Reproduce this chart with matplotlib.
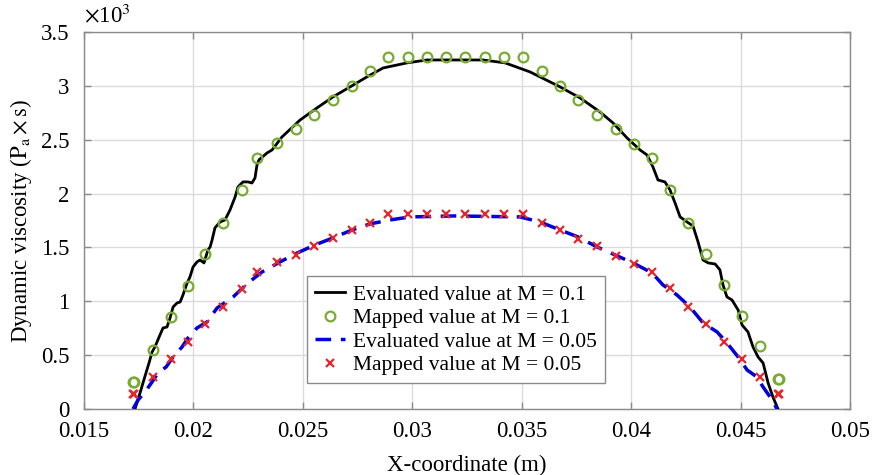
import matplotlib
matplotlib.use("Agg")
import matplotlib.pyplot as plt
from matplotlib.ticker import FuncFormatter, MultipleLocator

plt.rcParams['font.family'] = ['Liberation Serif', 'DejaVu Serif']
plt.rcParams['mathtext.fontset'] = 'stix'

# ---- data (dynamic viscosity in units of 10^3) ----
# Evaluated value at M = 0.1
eval1_x = [0.01735, 0.01758, 0.01785, 0.01799, 0.01813, 0.01826, 0.01849, 0.01863, 0.01881, 0.01895,
           0.01909, 0.01927, 0.01941, 0.01954, 0.01973, 0.01986, 0.02000, 0.02018, 0.02032, 0.02050,
           0.02068, 0.02078, 0.02087, 0.02100, 0.02123, 0.02146, 0.02169, 0.02192, 0.02205, 0.02228,
           0.02251, 0.02269, 0.02283, 0.02292, 0.02301, 0.02338, 0.02361, 0.02406, 0.02489, 0.02566,
           0.02639, 0.02717, 0.02794, 0.02868, 0.02977, 0.03068, 0.03324, 0.03425, 0.03539, 0.03676,
           0.03767, 0.03858, 0.03918, 0.03982, 0.04041, 0.04073, 0.04100, 0.04123, 0.04155, 0.04178,
           0.04201, 0.04224, 0.04256, 0.04283, 0.04306, 0.04329, 0.04352, 0.04384, 0.04406, 0.04420,
           0.04438, 0.04461, 0.04489, 0.04507, 0.04534, 0.04557, 0.04580, 0.04603, 0.04626, 0.04648,
           0.04671]
eval1_y = [0.00, 0.149, 0.334, 0.427, 0.529, 0.576, 0.687, 0.752, 0.761, 0.845,
           0.947, 0.984, 0.993, 1.058, 1.170, 1.226, 1.318, 1.365, 1.383, 1.356,
           1.476, 1.504, 1.569, 1.681, 1.736, 1.755, 1.848, 1.968, 2.061, 2.108,
           2.108, 2.098, 2.145, 2.266, 2.312, 2.377, 2.405, 2.525, 2.683, 2.795,
           2.897, 2.990, 3.083, 3.166, 3.213, 3.240, 3.240, 3.213, 3.129, 2.990,
           2.888, 2.758, 2.655, 2.516, 2.405, 2.358, 2.247, 2.126, 2.108, 2.033,
           1.913, 1.783, 1.736, 1.699, 1.551, 1.383, 1.356, 1.346, 1.291, 1.151,
           1.040, 1.012, 0.919, 0.780, 0.715, 0.576, 0.483, 0.427, 0.241, 0.111,
           0.00]

# Evaluated value at M = 0.05
eval2_x = [0.01726, 0.01749, 0.01781, 0.01813, 0.01840, 0.01877, 0.01909, 0.01950, 0.01977, 0.02018,
           0.02064, 0.02110, 0.02183, 0.02251, 0.02315, 0.02397, 0.02475, 0.02557, 0.02639, 0.02726,
           0.02808, 0.02900, 0.02991, 0.03196, 0.03493, 0.03584, 0.03676, 0.03758, 0.03845, 0.03927,
           0.04009, 0.04096, 0.04146, 0.04210, 0.04269, 0.04329, 0.04393, 0.04438, 0.04489, 0.04530,
           0.04575, 0.04603, 0.04635, 0.04667]
eval2_y = [0.00, 0.084, 0.158, 0.251, 0.334, 0.390, 0.483, 0.576, 0.659, 0.752,
           0.808, 0.938, 1.040, 1.170, 1.272, 1.365, 1.448, 1.523, 1.588, 1.662,
           1.718, 1.755, 1.783, 1.792, 1.783, 1.736, 1.662, 1.597, 1.504, 1.430,
           1.356, 1.263, 1.151, 1.058, 0.947, 0.799, 0.715, 0.613, 0.483, 0.362,
           0.297, 0.204, 0.111, 0.00]

# Mapped values (shared x positions)
mapped_x = [0.01726, 0.01817, 0.01900, 0.01978, 0.02055, 0.02137, 0.02224, 0.02292, 0.02384, 0.02470,
            0.02553, 0.02639, 0.02726, 0.02808, 0.02890, 0.02982, 0.03068, 0.03155, 0.03242, 0.03333,
            0.03420, 0.03507, 0.03594, 0.03676, 0.03758, 0.03845, 0.03932, 0.04014, 0.04096, 0.04178,
            0.04260, 0.04342, 0.04425, 0.04507, 0.04589, 0.04676]
mapped1_y = [0.25, 0.55, 0.85, 1.14, 1.44, 1.73, 2.03, 2.33, 2.47, 2.60,
             2.73, 2.87, 3.00, 3.14, 3.27, 3.27, 3.27, 3.27, 3.27, 3.27,
             3.27, 3.27, 3.14, 3.00, 2.87, 2.73, 2.60, 2.46, 2.33, 2.03,
             1.73, 1.44, 1.15, 0.86, 0.58, 0.28]
mapped2_y = [0.14, 0.30, 0.46, 0.62, 0.79, 0.95, 1.11, 1.27, 1.36, 1.43,
             1.51, 1.59, 1.66, 1.73, 1.81, 1.81, 1.81, 1.81, 1.81, 1.81,
             1.81, 1.81, 1.73, 1.66, 1.58, 1.51, 1.42, 1.35, 1.27, 1.12,
             0.95, 0.79, 0.62, 0.46, 0.30, 0.14]

labels = ['Evaluated value at M = 0.1', 'Mapped value at M = 0.1',
          'Evaluated value at M = 0.05', 'Mapped value at M = 0.05']

fig = plt.figure(figsize=(8.72, 4.75), dpi=100)
ax = fig.add_axes([0.0958, 0.139, 0.8790, 0.7937])

fs_tick = 16.5
fs = 15.5
ax.plot(eval1_x, eval1_y, color='black', lw=2.0, label=labels[0], zorder=3)
ax.plot(mapped_x, mapped1_y, ls='none', marker='o', ms=7, mfc='none', mec='#77AC30',
        mew=1.6, label=labels[1], zorder=4)
# slightly doubled end markers as in the reference
ax.plot([mapped_x[0] + 0.00006, mapped_x[-1] - 0.00006], [mapped1_y[0], mapped1_y[-1]],
        ls='none', marker='o', ms=7, mfc='none', mec='#77AC30', mew=1.6, zorder=4)
ax.plot(eval2_x, eval2_y, color='#0000DD', lw=2.5, dashes=(4.5, 2.8), label=labels[2], zorder=3)
ax.plot(mapped_x, mapped2_y, ls='none', marker='x', ms=6, mec='#E8262A', mew=1.6,
        label=labels[3], zorder=5)
ax.plot([mapped_x[0] + 0.00006, mapped_x[-1] - 0.00006], [mapped2_y[0], mapped2_y[-1]],
        ls='none', marker='x', ms=6, mec='#E8262A', mew=1.6, zorder=5)

ax.set_xlim(0.015, 0.05)
ax.set_ylim(0, 3.5)
ax.xaxis.set_major_locator(MultipleLocator(0.005))
ax.yaxis.set_major_locator(MultipleLocator(0.5))
ax.xaxis.set_major_formatter(FuncFormatter(lambda v, p: '%g' % round(v, 4)))
ax.yaxis.set_major_formatter(FuncFormatter(lambda v, p: '%g' % round(v, 2)))
ax.grid(True, color='#dcdcdc', lw=1.0)
ax.set_axisbelow(True)
for s in ax.spines.values():
    s.set_color('#8a8a8a')
    s.set_linewidth(1.0)
ax.tick_params(direction='in', length=5, width=1, color='#8a8a8a', top=True, right=True,
               labelsize=fs_tick)
ax.tick_params(axis='x', pad=9)
ax.tick_params(axis='y', pad=10)

ax.set_xlabel('X-coordinate (m)', fontsize=fs_tick, labelpad=9)
ax.set_ylabel(r'Dynamic viscosity ($\mathrm{P_a \times s}$)', fontsize=fs_tick, labelpad=5)
ax.text(0.0, 1.012, r'$\times$10$^3$', transform=ax.transAxes, fontsize=fs_tick,
        ha='left', va='bottom')

leg = ax.legend(loc='lower center', bbox_to_anchor=(0.486, 0.068), fontsize=fs,
                frameon=True, fancybox=False, framealpha=1, edgecolor='#8a8a8a',
                handlelength=1.4, handletextpad=0.35, labelspacing=0.16,
                borderpad=0.38, borderaxespad=0)
leg.get_frame().set_linewidth(1.0)

fig.savefig('out.png', dpi=100)
